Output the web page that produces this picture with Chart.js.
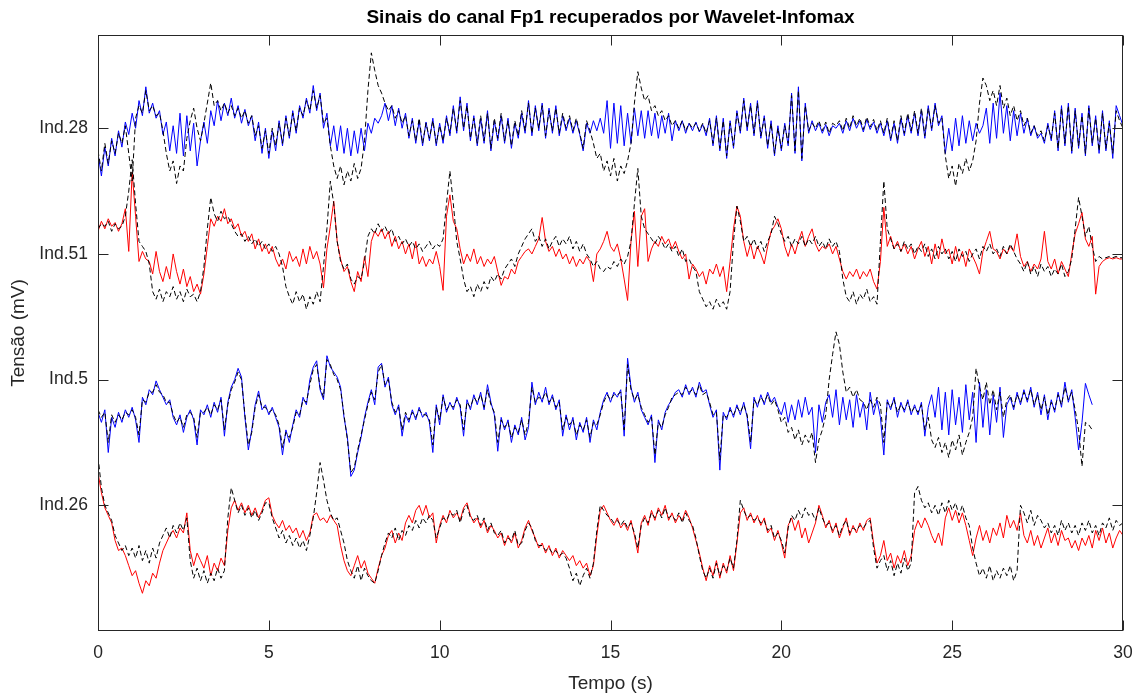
<!DOCTYPE html>
<html lang="pt">
<head>
<meta charset="utf-8">
<title>Sinais do canal Fp1 recuperados por Wavelet-Infomax</title>
<script src="https://cdn.jsdelivr.net/npm/chart.js@4.4.1/dist/chart.umd.min.js"></script>
<style>
  html, body { margin: 0; padding: 0; background: #ffffff; }
  #wrap { width: 1139px; height: 695px; }
</style>
</head>
<body>
<div id="wrap"><canvas id="fp1Chart" width="1139" height="695"></canvas></div>
<script>
// Sampling step of the traces (s)
const dt = 0.1;

// Channel stacking: each individual sits on its own baseline
const channelNames = ['Ind.26', 'Ind.5', 'Ind.51', 'Ind.28'];
const channelOffsets = [1, 2, 3, 4];
const timeTicks = [0, 5, 10, 15, 20, 25, 30];

// Traces in hundredths of mV, relative to the channel baseline, one row per second
const ind28Recovered = [
  -20,-38,-15,-30,-8,-22,-2,-15,5,-5,
  12,0,22,10,33,12,20,8,14,-5,
  5,-18,2,-20,12,-22,10,-18,4,-30,
  -10,5,-12,14,2,22,6,20,10,24,
  8,18,4,15,2,10,-10,5,-20,0,
  -24,-2,-18,6,-14,10,-8,14,-4,18,
  8,24,12,34,14,28,0,12,-14,2,
  -18,2,-20,0,-22,-2,-20,0,-18,4,
  -4,8,4,10,20,6,18,2,16,0,
  12,-8,8,-12,6,-14,5,-10,8,-14,
  4,-12,10,-6,18,-4,25,-2,20,-10,
  10,-14,8,-12,14,-18,6,-10,10,-12,
  8,-16,4,-8,12,-4,22,-6,18,-2,
  20,-8,16,-4,18,-6,10,-2,8,-4,
  6,-5,-18,4,-4,6,-2,8,-4,22,
  -16,20,-12,18,-14,12,-12,16,-6,14,
  -8,14,-6,12,-8,10,-4,12,-10,6,
  -2,6,-4,4,-2,5,-3,3,-6,8,
  -14,10,-18,8,-24,6,-16,14,-4,24,
  -2,20,-6,22,-8,10,-16,6,-22,2,
  -18,4,-14,28,-20,33,-26,20,-4,6,
  -2,4,-4,3,-6,2,0,4,-4,6,
  -2,8,0,6,-3,7,-1,5,-4,4,
  -6,6,-10,4,-12,8,-6,10,-4,12,
  -6,14,-8,18,-2,20,2,10,-20,0,
  -18,8,-14,10,-12,6,-10,4,-4,2,
  16,-12,20,-8,28,-4,18,-10,14,-6,
  12,-4,8,-6,2,-8,-4,-12,4,-10,
  14,-18,18,-14,20,-20,16,-16,12,-22,
  18,-14,10,-20,14,-18,6,-24,18,10,
  2
];
const ind28Original = [
  -18,-34,-12,-28,-10,-20,-4,-12,2,-20,
  -42,8,18,12,30,14,18,10,12,-2,
  -20,-34,-26,-44,-30,-34,-8,6,16,0,
  -10,4,20,36,18,22,14,20,12,18,
  10,16,8,14,4,10,-6,2,-16,-2,
  -20,0,-14,4,-12,8,-6,12,-2,16,
  10,22,14,30,16,26,4,8,-14,-30,
  -40,-30,-45,-34,-42,-28,-40,-32,-10,30,
  60,46,34,28,20,14,18,8,14,4,
  10,-6,6,-10,8,-12,4,-8,6,-12,
  2,-10,8,-4,16,-2,22,0,18,-8,
  8,-12,10,-10,12,-16,8,-8,12,-10,
  6,-14,6,-6,14,-2,20,-4,16,0,
  18,-6,14,-2,16,-4,12,0,10,-2,
  8,-4,-16,6,-2,-12,-24,-20,-34,-26,
  -38,-24,-42,-30,-36,-26,-12,20,45,32,
  22,26,14,18,10,14,6,10,2,6,
  0,6,-2,4,0,4,-2,4,-4,6,
  -12,8,-16,6,-22,4,-14,12,-2,22,
  0,18,-4,20,-6,8,-14,4,-20,0,
  -16,2,-12,26,-18,30,-24,18,-2,4,
  0,6,-2,5,-4,4,2,6,-2,8,
  0,10,2,8,-1,9,1,7,-2,6,
  -4,8,-8,6,-10,10,-4,12,-2,14,
  -4,16,-6,16,0,18,4,8,-22,-40,
  -30,-46,-28,-36,-24,-34,-26,-10,20,40,
  34,22,30,18,34,16,24,10,18,6,
  14,2,8,-4,2,-6,-2,-10,2,-8,
  12,-16,16,-12,18,-18,14,-14,10,-20,
  16,-12,8,-18,12,-16,4,-20,14,6,
  0
];

const ind51Recovered = [
  18,26,20,28,22,25,18,24,36,2,
  65,30,-6,2,-4,-6,-16,2,-14,-22,
  -10,-20,0,-14,-24,-12,-26,-18,-30,-24,
  -32,-16,6,28,22,30,26,36,24,28,
  20,24,14,18,10,16,4,12,2,8,
  0,6,-4,-10,-4,-12,2,-6,-2,-10,
  4,-8,6,-4,2,-8,-27,4,22,42,
  10,-4,-14,-10,-22,-30,-14,-22,-2,-18,
  10,18,14,20,12,18,6,14,4,10,
  0,8,-4,10,-8,-2,-10,-4,-8,2,
  -10,-29,30,47,26,20,4,-8,0,-6,
  4,-8,-2,-10,-4,-8,-2,-14,-25,-18,
  -20,-12,-16,-6,-2,2,4,0,6,12,
  29,10,2,6,-2,4,-4,0,-8,-2,
  -10,-4,-8,-2,-6,-22,0,4,10,18,
  6,2,8,-4,-20,-37,10,34,-10,30,
  36,-6,4,10,6,14,8,12,4,10,
  2,-4,0,-20,-8,-12,-18,-14,-24,-12,
  -16,-8,-18,-10,-30,-6,20,38,30,10,
  -2,8,-4,6,0,-8,6,18,22,28,
  20,6,-2,8,0,10,18,6,14,20,
  8,2,6,4,8,0,6,-4,-14,-20,
  -14,-18,-12,-20,-14,-18,-12,-22,-28,-6,
  37,6,14,4,10,2,8,0,6,-4,
  4,10,-2,6,-8,8,-4,12,0,4,
  -8,6,-6,2,-10,4,-2,-8,-16,2,
  10,18,4,2,-4,4,0,6,2,16,
  -2,-10,-6,-14,-8,-12,-4,18,-6,-12,
  -4,-16,-6,-12,-18,0,16,24,33,12,
  6,14,-32,-10,-6,-4,-3,-4,-3,-4,
  -4
];
const ind51Original = [
  20,24,22,26,18,24,20,22,30,50,
  75,40,10,6,2,-8,-30,-36,-28,-38,
  -30,-34,-26,-36,-30,-38,-28,-34,-32,-38,
  -30,-10,20,45,32,26,34,28,30,24,
  18,14,16,10,14,8,12,6,10,4,
  8,2,6,0,-10,-26,-34,-40,-30,-38,
  -32,-44,-34,-40,-30,-38,-10,20,58,40,
  10,-6,-12,-8,-20,-24,-18,-20,-6,14,
  20,16,24,18,22,16,20,10,14,8,
  12,6,10,4,8,2,6,10,4,8,
  6,12,40,66,40,10,-4,-20,-30,-26,
  -34,-24,-30,-22,-28,-18,-22,-16,-20,-12,
  -8,-4,-10,0,6,12,16,20,10,14,
  6,12,4,10,14,6,12,8,14,4,
  10,2,8,0,-4,-10,-6,-12,-14,-10,
  -12,-6,-10,-4,-8,-2,10,40,68,30,
  20,16,12,8,14,10,4,8,2,6,
  -2,4,-6,-4,-10,-14,-30,-36,-42,-38,
  -44,-36,-42,-38,-44,-30,10,38,26,10,
  14,6,12,4,10,2,10,16,30,24,
  16,10,14,6,12,8,14,6,12,8,
  14,6,10,4,12,6,10,2,-20,-34,
  -38,-30,-40,-32,-36,-28,-38,-34,-40,10,
  58,20,12,4,8,2,10,4,8,0,
  6,2,8,-2,4,-4,6,0,4,-4,
  2,-6,4,-2,2,-6,0,4,-4,6,
  2,8,0,4,-2,6,0,8,2,-4,
  -8,-14,-6,-16,-10,-18,-8,-14,-10,-18,
  -12,-16,-8,-18,-14,-4,20,45,30,14,
  22,6,-6,-2,-4,-3,-2,-3,-2,-3,
  -3
];

const ind5Recovered = [
  -26,-34,-24,-58,-30,-38,-26,-34,-24,-30,
  -22,-32,-50,-14,-20,-8,-12,-1,-8,-14,
  -20,-16,-30,-36,-28,-42,-30,-24,-32,-52,
  -24,-28,-20,-30,-18,-26,-14,-45,-18,-6,
  0,9,2,-30,-56,-40,-20,-9,-24,-20,
  -28,-22,-30,-38,-60,-40,-50,-36,-24,-30,
  -14,-20,0,10,15,-8,-16,19,10,6,
  2,-6,-30,-46,-77,-72,-58,-46,-30,-18,
  -8,-20,10,13,-6,2,-20,-28,-20,-45,
  -28,-34,-24,-32,-22,-30,-26,-34,-58,-20,
  -36,-12,-26,-18,-24,-14,-22,-45,-16,-24,
  -12,-20,-10,-24,-4,-18,-28,-57,-30,-40,
  -32,-50,-36,-44,-30,-48,-38,-2,-20,-10,
  -18,-6,-20,-12,-24,-16,-45,-28,-40,-30,
  -48,-34,-42,-30,-50,-32,-40,-26,-16,-10,
  -18,-10,-14,-8,-45,17,-6,-18,-10,-24,
  -30,-36,-28,-66,-32,-40,-26,-20,-16,-10,
  -8,-14,-4,-12,-6,-14,-2,-10,-8,-20,
  -30,-24,-72,-26,-32,-22,-30,-20,-28,-18,
  -30,-55,-14,-22,-12,-20,-10,-18,-14,-22,
  -28,-18,-34,-20,-32,-16,-30,-14,-28,-22,
  -58,-20,-34,-18,-12,-30,-8,-36,-14,-32,
  -16,-38,-12,-30,-18,-40,-10,-28,-16,-30,
  -60,-16,-24,-14,-30,-18,-26,-16,-28,-20,
  -28,-18,-45,-22,-12,-30,-6,-40,-10,-44,
  -8,-36,-14,-42,-4,-32,-10,-50,-2,-38,
  -8,-44,-12,-34,-6,-46,-20,-14,-24,-10,
  -20,-8,-18,-6,-22,-10,-28,-12,-32,-16,
  -26,-10,-22,-2,-18,-8,-30,-56,-34,-3,
  -12,-20
];
const ind5Original = [
  -24,-30,-26,-50,-28,-34,-28,-32,-26,-28,
  -24,-30,-44,-16,-18,-10,-10,-4,-10,-12,
  -18,-18,-28,-34,-30,-38,-28,-26,-30,-46,
  -26,-26,-22,-28,-20,-24,-16,-40,-20,-8,
  -2,6,0,-28,-52,-42,-22,-12,-22,-22,
  -26,-24,-28,-36,-54,-42,-46,-38,-26,-28,
  -16,-18,-4,8,12,-6,-14,16,12,4,
  0,-8,-28,-48,-74,-70,-56,-44,-32,-20,
  -10,-16,6,12,-4,0,-18,-26,-22,-40,
  -26,-32,-26,-30,-24,-28,-28,-32,-52,-22,
  -32,-14,-24,-20,-22,-16,-20,-40,-18,-22,
  -14,-18,-12,-22,-8,-20,-26,-50,-32,-38,
  -34,-46,-38,-42,-32,-44,-34,-6,-18,-14,
  -16,-10,-18,-14,-22,-18,-40,-30,-36,-32,
  -44,-36,-40,-32,-46,-34,-36,-28,-18,-12,
  -16,-12,-12,-10,-40,12,-8,-16,-12,-22,
  -28,-34,-30,-60,-34,-38,-28,-22,-14,-12,
  -10,-12,-6,-10,-8,-12,-4,-12,-10,-18,
  -28,-26,-64,-28,-30,-24,-28,-22,-26,-20,
  -28,-50,-16,-20,-14,-18,-12,-20,-16,-24,
  -34,-30,-42,-38,-48,-40,-52,-44,-50,-42,
  -66,-48,-40,-28,0,20,38,28,6,-10,
  -6,-14,-8,-16,-18,-24,-16,-22,-14,-20,
  -50,-18,-22,-16,-26,-20,-24,-18,-26,-22,
  -26,-20,-40,-30,-48,-54,-46,-58,-50,-62,
  -48,-56,-44,-60,-50,-42,-30,9,-6,-16,
  -2,-20,-8,-24,-10,-30,-16,-12,-22,-12,
  -18,-10,-16,-8,-20,-12,-24,-14,-28,-18,
  -24,-12,-20,-6,-16,-10,-24,-40,-69,-34,
  -36,-40
];

const ind26Recovered = [
  26,10,-2,-8,-14,-28,-36,-34,-40,-48,
  -56,-52,-62,-70,-60,-64,-54,-58,-46,-36,
  -30,-24,-20,-26,-18,-22,-6,-36,-48,-38,
  -44,-50,-40,-56,-46,-52,-42,-48,-20,-2,
  4,-4,2,-6,0,-8,-2,-10,-4,4,
  6,-8,-14,-18,-12,-20,-16,-22,-18,-26,
  -20,-28,-22,-8,-6,-12,-10,-14,-8,-12,
  -16,-32,-44,-52,-56,-48,-40,-50,-44,-54,
  -58,-62,-50,-40,-34,-24,-20,-30,-22,-28,
  -14,-8,-14,-4,0,-8,0,-10,-6,-30,
  -16,-8,-14,-4,-10,-6,-12,-2,2,-8,
  -14,-10,-18,-12,-22,-16,-20,-26,-22,-32,
  -24,-30,-22,-34,-28,-18,-12,-20,-26,-34,
  -30,-38,-32,-40,-34,-42,-36,-40,-44,-40,
  -48,-44,-50,-46,-56,-48,-24,-4,0,-6,
  -12,-16,-10,-18,-14,-20,-12,-24,-38,-14,
  -8,-16,-4,-12,-2,-8,0,-12,-6,-14,
  -8,-12,-4,-10,-18,-28,-38,-50,-60,-48,
  -56,-44,-58,-46,-54,-40,-52,-30,-6,-2,
  -12,-6,-14,-8,-16,-10,-22,-18,-28,-20,
  -30,-42,-16,-10,-20,-12,-26,-18,-30,-22,
  -14,0,-8,-18,-12,-22,-14,-26,-18,-10,
  -24,-16,-22,-14,-20,-12,-10,-30,-46,-40,
  -28,-44,-38,-50,-40,-46,-36,-48,-40,-20,
  -12,-18,-10,-16,-24,-30,-22,-32,-10,-2,
  -12,-4,-14,-6,-16,-28,-40,-26,-16,-28,
  -20,-30,-18,-24,-14,-26,-8,-18,-12,-20,
  -6,-24,-30,-20,-32,-24,-34,-26,-18,-30,
  -22,-32,-20,-28,-26,-34,-28,-36,-26,-32,
  -24,-34,-20,-28,-18,-30,-22,-34,-26,-20,
  -24
];
const ind26Original = [
  39,14,0,-6,-12,-24,-30,-36,-32,-40,
  -34,-42,-32,-44,-36,-46,-34,-42,-30,-24,
  -18,-26,-16,-22,-14,-20,-10,-44,-58,-50,
  -60,-52,-62,-54,-60,-50,-58,-52,-10,14,
  4,-6,0,-8,-2,-10,-4,-12,-6,2,
  2,-10,-18,-26,-20,-30,-24,-32,-26,-34,
  -28,-36,-24,-10,10,34,20,4,-6,-12,
  -10,-20,-30,-44,-52,-58,-48,-60,-50,-56,
  -60,-62,-52,-40,-30,-22,-26,-18,-28,-20,
  -24,-16,-20,-12,-18,-10,-14,-8,-12,-26,
  -18,-10,-12,-6,-8,-4,-14,-4,0,-10,
  -12,-8,-16,-10,-20,-14,-22,-24,-20,-30,
  -26,-28,-20,-32,-30,-20,-14,-18,-28,-32,
  -32,-36,-34,-38,-36,-40,-38,-42,-50,-60,
  -54,-64,-56,-50,-58,-46,-20,0,-4,-8,
  -10,-14,-12,-16,-12,-18,-14,-22,-34,-16,
  -10,-14,-6,-10,-4,-10,-2,-10,-8,-12,
  -6,-14,-6,-12,-16,-26,-40,-52,-58,-50,
  -58,-46,-56,-48,-52,-42,-50,-28,4,-4,
  -10,-8,-12,-10,-14,-12,-20,-16,-26,-22,
  -28,-38,-18,-8,-12,-4,-10,-2,-8,-6,
  -12,-2,-10,-16,-14,-20,-16,-24,-16,-12,
  -22,-18,-20,-16,-18,-14,-12,-34,-50,-44,
  -40,-52,-44,-56,-46,-54,-42,-52,-46,10,
  15,4,-2,2,-6,0,-8,2,-6,4,
  -4,2,-8,0,-10,-16,-34,-46,-56,-50,
  -58,-48,-60,-52,-58,-50,-56,-48,-60,-52,
  0,-6,-14,-4,-16,-8,-12,-18,-14,-22,
  -16,-24,-12,-20,-14,-22,-16,-24,-14,-20,
  -12,-22,-16,-24,-14,-18,-10,-20,-12,-16,
  -14
];

// Turn a trace into chart points on its channel baseline
function toPoints(values, offset) {
  return values.map((v, i) => ({ x: Math.round(i * dt * 10) / 10, y: offset + v / 100 }));
}

function trace(values, offset, color, dashed) {
  return {
    data: toPoints(values, offset),
    borderColor: color,
    borderWidth: 1,
    borderDash: dashed ? [5, 3] : [],
    borderJoinStyle: 'round',
    pointRadius: 0,
    fill: false,
    tension: 0,
    order: dashed ? 0 : 1
  };
}

const axisColor = '#262626';

// Box around the plot with inward tick marks on all four sides
const axesBox = {
  id: 'axesBox',
  afterDraw(chart) {
    const { ctx, chartArea: a, scales: { x, y } } = chart;
    const L = Math.round(a.left) + 0.5, R = Math.round(a.right) - 0.5;
    const T = Math.round(a.top) + 0.5, B = Math.round(a.bottom) - 0.5;
    ctx.save();
    ctx.strokeStyle = axisColor;
    ctx.lineWidth = 1;
    ctx.beginPath();
    timeTicks.forEach(t => {
      const px = Math.round(x.getPixelForValue(t)) + 0.5;
      ctx.moveTo(px, B); ctx.lineTo(px, B - 10);
      ctx.moveTo(px, T); ctx.lineTo(px, T + 10);
    });
    channelOffsets.forEach(v => {
      const py = Math.round(y.getPixelForValue(v)) + 0.5;
      ctx.moveTo(L, py); ctx.lineTo(L + 10, py);
      ctx.moveTo(R, py); ctx.lineTo(R - 10, py);
    });
    ctx.stroke();
    ctx.strokeRect(L, T, R - L, B - T);
    ctx.restore();
  }
};

// Fixed axis boxes so the plot area keeps its place regardless of label sizes
function fixBox(scale, size) {
  if (scale.isHorizontal()) scale.height = size; else scale.width = size;
  scale.paddingLeft = 0;
  scale.paddingRight = 0;
  scale.paddingTop = 0;
  scale.paddingBottom = 0;
}

Chart.defaults.font.family = '"Liberation Sans", Arial, sans-serif';
Chart.defaults.color = axisColor;

new Chart(document.getElementById('fp1Chart'), {
  type: 'line',
  data: {
    datasets: [
      trace(ind28Recovered, 4, '#0000ff', false),
      trace(ind28Original, 4, '#000000', true),
      trace(ind51Recovered, 3, '#ff0000', false),
      trace(ind51Original, 3, '#000000', true),
      trace(ind5Recovered, 2, '#0000ff', false),
      trace(ind5Original, 2, '#000000', true),
      trace(ind26Recovered, 1, '#ff0000', false),
      trace(ind26Original, 1, '#000000', true)
    ]
  },
  options: {
    responsive: false,
    animation: false,
    devicePixelRatio: 1,
    parsing: false,
    normalized: true,
    layout: { padding: { left: 0, right: 16, top: 0, bottom: 0 } },
    plugins: {
      legend: { display: false },
      tooltip: { enabled: false },
      title: {
        display: true,
        fullSize: false,
        text: 'Sinais do canal Fp1 recuperados por Wavelet-Infomax',
        color: '#000000',
        font: { size: 19, weight: 'bold' },
        padding: { top: 6, bottom: 6.2 }
      }
    },
    scales: {
      x: {
        type: 'linear',
        min: 0,
        max: 30,
        afterBuildTicks: axis => { axis.ticks = timeTicks.map(v => ({ value: v })); },
        afterFit: scale => fixBox(scale, 64),
        grid: { display: false, drawTicks: false },
        border: { display: false },
        ticks: { font: { size: 17.5 }, padding: 12, maxRotation: 0 },
        title: {
          display: true,
          text: 'Tempo (s)',
          font: { size: 19 },
          padding: { top: 0, bottom: 0 }
        }
      },
      y: {
        type: 'linear',
        min: 0,
        max: 4.742,
        afterBuildTicks: axis => { axis.ticks = channelOffsets.map(v => ({ value: v })); },
        afterFit: scale => fixBox(scale, 98),
        grid: { display: false, drawTicks: false },
        border: { display: false },
        ticks: {
          font: { size: 17.5 },
          padding: 10,
          callback: value => channelNames[channelOffsets.indexOf(value)]
        },
        title: {
          display: true,
          text: 'Tensão (mV)',
          font: { size: 19 },
          padding: { top: 7, bottom: 0 }
        }
      }
    }
  },
  plugins: [axesBox]
});
</script>
</body>
</html>
